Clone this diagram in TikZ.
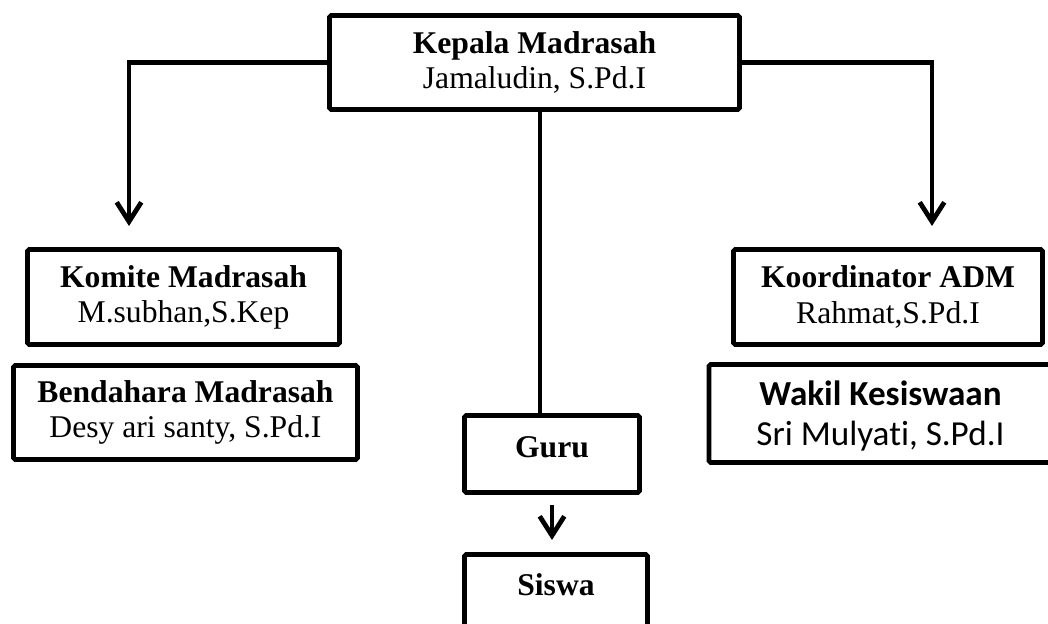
\documentclass[tikz,border=0pt]{standalone}
\usepackage{fontspec}
\setmainfont{Liberation Serif}
\newfontfamily\calibri[Ligatures={TeX,NoCommon}]{Carlito}
\usetikzlibrary{arrows.meta, positioning}

\begin{document}
\begin{tikzpicture}[
    x=0.02cm, y=-0.02cm,
    box/.style={rectangle, draw=black, line width=2.7pt, rounded corners=1pt, align=center, inner sep=0pt, font=\fontsize{18}{20}\selectfont},
    link/.style={line width=2.7pt, draw=black},
    arrow/.style={link, -{Straight Barb[length=11pt, width=14pt]}}
]
    \useasboundingbox (0,0) rectangle (1048,623);

    \node[box, minimum width=8.2cm, minimum height=1.88cm] (kepala) at (534.5,62.5) {\textbf{Kepala Madrasah}\\ Jamaludin, S.Pd.I};
    \node[box, minimum width=6.24cm, minimum height=1.9cm] (komite) at (183.5,297) {\textbf{Komite Madrasah}\\ M.subhan,S.Kep};
    \node[box, minimum width=6.88cm, minimum height=1.88cm] (bendahara) at (185.5,412.5) {\textbf{Bendahara Madrasah}\\ Desy ari santy, S.Pd.I};
    \node[box, minimum width=6.18cm, minimum height=1.9cm] (koordinator) at (888,297) {\textbf{Koordinator ADM}\\ Rahmat,S.Pd.I};
    \node[box, minimum width=6.86cm, minimum height=1.96cm, text height=1.4cm, font=\calibri\fontsize{20}{23}\selectfont] (wakil) at (880.5,413.5) {\textbf{Wakil Kesiswaan}\\ Sri Mulyati, S.Pd.I};
    \node[box, minimum width=3.5cm, minimum height=1.54cm, text depth=0.26cm] (guru) at (552,454) {\textbf{Guru}};
    \node[box, minimum width=3.66cm, anchor=north, inner ysep=0.38cm, text depth=2cm] (siswa) at (556,552) {\textbf{Siswa}};

    \coordinate (komtip) at (129,226);
    \coordinate (kortip) at (932,226);
    \coordinate (trunk) at (540,300);

    \draw[arrow] (kepala.west) -| (komtip);
    \draw[arrow] (kepala.east) -| (kortip);
    \draw[link] (kepala.south -| trunk) -- (guru.north -| trunk);
    \draw[arrow, shorten <=0.2cm, shorten >=0.24cm] (guru.south) -- (guru.south |- siswa.north);
\end{tikzpicture}
\end{document}
